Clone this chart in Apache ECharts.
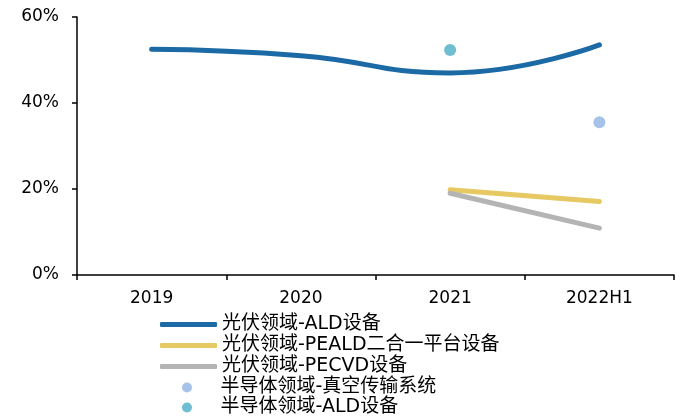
<!DOCTYPE html>
<html><head><meta charset="utf-8">
<script src="https://cdn.jsdelivr.net/npm/echarts@6/dist/echarts.min.js"></script>
<style>html,body{margin:0;padding:0;background:#fff}#c{width:683px;height:418px}</style>
</head><body><div id="c"></div>
<script>
var categories = ['2019', '2020', '2021', '2022H1'];
var pvALD = [52.5, 51.0, 47.0, 53.5];
var pvPEALD = [null, null, 19.8, 17.1];
var pvPECVD = [null, null, 19.0, 10.9];
var semiVacuum = [null, null, null, 35.5];
var semiALD = [null, null, 52.3, null];
var yTicks = [0, 20, 40, 60];
var names = ['光伏领域-ALD设备', '光伏领域-PEALD二合一平台设备', '光伏领域-PECVD设备', '半导体领域-真空传输系统', '半导体领域-ALD设备'];
var colors = ['#1B6AA5', '#E6C963', '#B4B4B4', '#8EB4E3', '#4BACC6'];

var chart = echarts.init(document.getElementById('c'));
var font = '"DejaVu Sans", "Noto Sans CJK SC", sans-serif';
var legendText = {fontSize: 19, color: '#000', fontFamily: font, lineHeight: 19};
chart.setOption({
  animation: false,
  grid: {left: 77, right: 9, top: 17, bottom: 143},
  xAxis: {
    type: 'category', data: categories, boundaryGap: true,
    axisLine: {lineStyle: {color: '#000', width: 1.5}},
    axisTick: {show: true, length: 5, lineStyle: {color: '#000', width: 1.5}},
    axisLabel: {color: '#000', fontSize: 17, fontFamily: font, margin: 15}
  },
  yAxis: {
    type: 'value', min: yTicks[0], max: yTicks[yTicks.length - 1], interval: 20,
    axisLine: {show: true, lineStyle: {color: '#000', width: 1.5}},
    axisTick: {show: true, length: 5, lineStyle: {color: '#000', width: 1.5}},
    splitLine: {show: false},
    axisLabel: {color: '#000', fontSize: 17, fontFamily: font, margin: 18, formatter: '{value}%'}
  },
  legend: [{
    orient: 'vertical', left: 160, top: 315, padding: 0, itemWidth: 57, itemHeight: 5, itemGap: 2,
    icon: 'roundRect', textStyle: legendText,
    data: names.slice(0, 3)
  }, {
    orient: 'vertical', left: 182, top: 378, padding: 0, itemWidth: 57, itemHeight: 10, itemGap: 1,
    icon: 'circle', textStyle: legendText,
    data: names.slice(3)
  }],
  series: [
    {name: names[0], type: 'line', data: pvALD, smooth: 0.5, symbol: 'none', color: colors[0], lineStyle: {width: 5, color: colors[0], cap: 'round'}},
    {name: names[1], type: 'line', data: pvPEALD, symbol: 'none', color: colors[1], lineStyle: {width: 5, color: colors[1], cap: 'round'}},
    {name: names[2], type: 'line', data: pvPECVD, symbol: 'none', color: colors[2], lineStyle: {width: 5, color: colors[2], cap: 'round'}},
    {name: names[3], type: 'scatter', data: semiVacuum, symbolSize: 12, color: colors[3], itemStyle: {color: colors[3]}},
    {name: names[4], type: 'scatter', data: semiALD, symbolSize: 12, color: colors[4], itemStyle: {color: colors[4]}}
  ]
});
</script></body></html>
